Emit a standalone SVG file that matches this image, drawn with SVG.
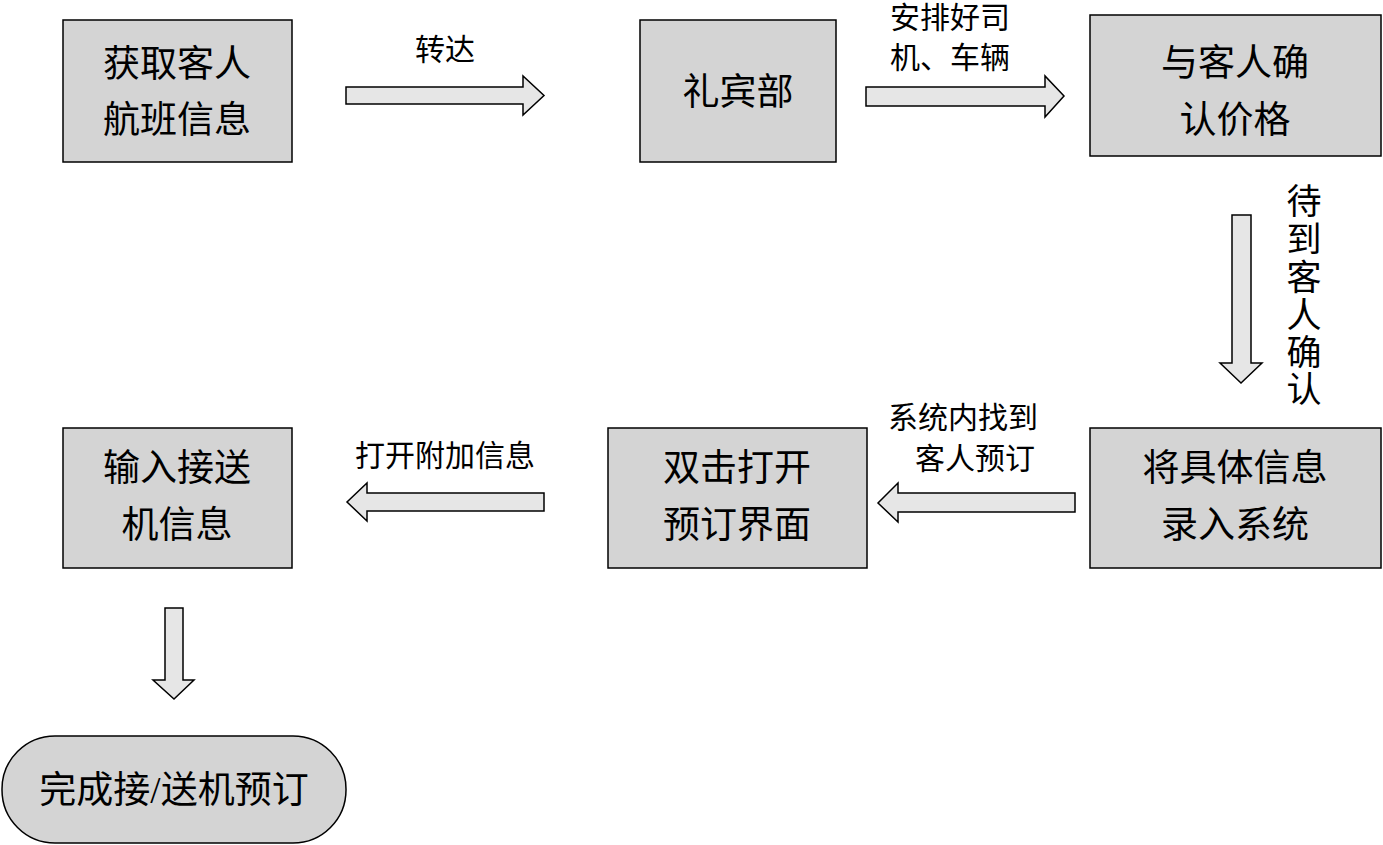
<svg xmlns="http://www.w3.org/2000/svg" width="1383" height="845" viewBox="0 0 1383 845">
<style>
.box{fill:#d4d4d4;stroke:#000;stroke-width:1.5}
.arr{fill:#e6e6e6;stroke:#000;stroke-width:1.5;stroke-linejoin:miter}
.t{font-family:"Liberation Serif","Noto Sans CJK SC",serif;font-size:37px;fill:#000;text-anchor:middle;dominant-baseline:central}
.l{font-family:"Liberation Serif","Noto Sans CJK SC",serif;font-size:30px;fill:#000;text-anchor:middle;dominant-baseline:central}
.v{font-family:"Liberation Serif","Noto Sans CJK SC",serif;font-size:35px;fill:#000;text-anchor:middle;dominant-baseline:central}
</style>
<rect width="1383" height="845" fill="#fff"/>
<g id="n1"><rect class="box" x="63" y="20" width="229" height="142"/><text class="t" x="177" y="64">获取客人</text><text class="t" x="177" y="120">航班信息</text></g>
<g id="n2"><rect class="box" x="640" y="20" width="196" height="142"/><text class="t" x="738" y="92">礼宾部</text></g>
<g id="n3"><rect class="box" x="1090" y="15" width="291" height="141"/><text class="t" x="1235" y="63">与客人确</text><text class="t" x="1235" y="120">认价格</text></g>
<g id="n4"><rect class="box" x="1090" y="428" width="291" height="140"/><text class="t" x="1235" y="468">将具体信息</text><text class="t" x="1235" y="525">录入系统</text></g>
<g id="n5"><rect class="box" x="608" y="428" width="259" height="140"/><text class="t" x="737" y="468">双击打开</text><text class="t" x="737" y="525">预订界面</text></g>
<g id="n6"><rect class="box" x="63" y="428" width="229" height="140"/><text class="t" x="177" y="468">输入接送</text><text class="t" x="177" y="525">机信息</text></g>
<g id="n7"><rect class="box" x="2" y="736" width="344" height="107" rx="53" ry="53"/><text class="t" x="174" y="790">完成接/送机预订</text></g>
<g id="connectors">
<polygon class="arr" points="346,87 523,87 523,76 544,95.5 523,115 523,104 346,104"/>
<text class="l" x="445" y="49">转达</text>
<polygon class="arr" points="866,87 1045,87 1045,76 1064,96 1045,117 1045,106 866,106"/>
<text class="l" x="950" y="17">安排好司</text>
<text class="l" x="950" y="57">机、车辆</text>
<polygon class="arr" points="1232,215 1251,215 1251,363 1262,363 1241,383 1220,363 1232,363"/>
<text class="v" x="1304" y="202">待</text>
<text class="v" x="1304" y="240">到</text>
<text class="v" x="1304" y="278">客</text>
<text class="v" x="1304" y="316">人</text>
<text class="v" x="1304" y="353">确</text>
<text class="v" x="1304" y="390">认</text>
<polygon class="arr" points="1075,493 898,493 898,483 878,503 898,522 898,512 1075,512"/>
<text class="l" x="963" y="417">系统内找到</text>
<text class="l" x="975" y="458">客人预订</text>
<polygon class="arr" points="544,493 367,493 367,483 347,502 367,521 367,511 544,511"/>
<text class="l" x="445" y="455">打开附加信息</text>
<polygon class="arr" points="165,608 183,608 183,680 194,680 174,699 153,680 165,680"/>
</g>
</svg>
